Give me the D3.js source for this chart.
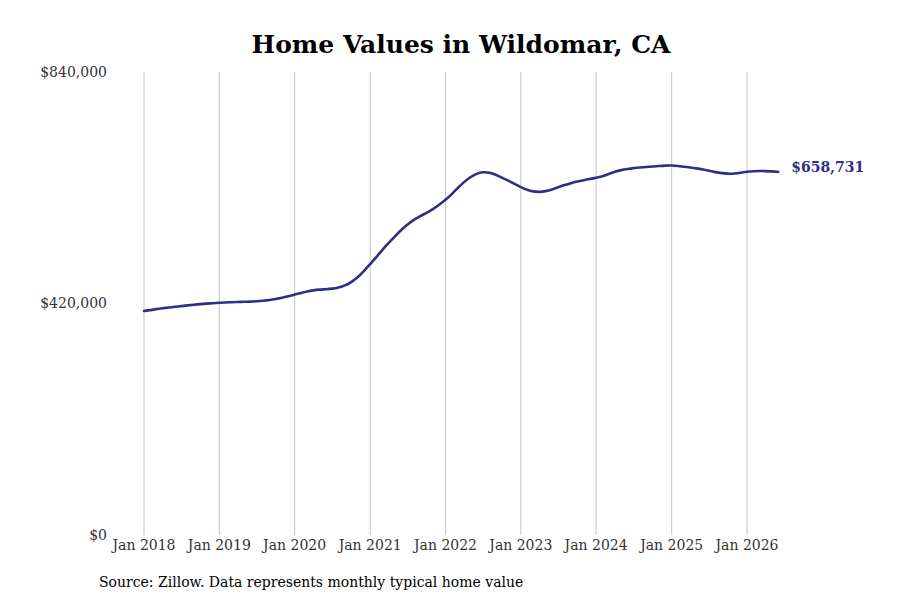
<!DOCTYPE html>
<html lang="en">
<head>
    <meta charset="UTF-8">
    <title>Home Values in Wildomar, CA</title>
    <script src="https://cdnjs.cloudflare.com/ajax/libs/d3/7.8.5/d3.min.js"></script>
    <style>
        body { margin: 0; background: #fff; }
        svg { display: block; font-family: "DejaVu Serif", serif; }
    </style>
</head>
<body>
<svg width="900" height="600"></svg>

<script>
    // monthly typical home value, Jan 2018 .. Jun 2026
    const startMonth = "2018-01";
    const homeValues = [
        406400, 408000, 409800, 411300, 412700, 414000, 415300, 416600, 417800, 418900, 419800, 420600,
        421300, 421900, 422400, 422800, 423100, 423400, 424000, 425000, 426300, 428000, 430200, 433000,
        436200, 439300, 442000, 444000, 445200, 445800, 446800, 449000, 452500, 458500, 467000, 478500,
        491500, 504500, 517500, 530000, 542000, 553500, 563500, 572000, 578500, 584500, 591000, 599000,
        607800, 618500, 629500, 640500, 649500, 655800, 658600, 657700, 653800, 648500, 643000, 637000,
        631000, 626000, 623000, 622200, 623600, 626800, 631000, 635000, 638500, 641300, 643800, 646000,
        648000, 650700, 654800, 659000, 662200, 664200, 665700, 666800, 667700, 668600, 669500, 670300,
        670400, 669600, 668100, 666800, 665200, 663200, 660800, 658300, 656300, 655300, 655800, 657300,
        659000, 660200, 660600, 660300, 659700, 658731
    ];
    const yTicks = [0, 420000, 840000];
    const xTickYears = [2018, 2019, 2020, 2021, 2022, 2023, 2024, 2025, 2026];

    const lineColor = "#2e2d88";
    const svg = d3.select("svg");

    const parseMonth = d3.timeParse("%Y-%m");
    const t0 = parseMonth(startMonth);
    const data = homeValues.map((v, i) => ({ date: d3.timeMonth.offset(t0, i), value: v }));

    const x = d3.scaleTime()
        .domain([new Date(2018, 0, 1), new Date(2026, 0, 1)])
        .range([144, 747]);
    const y = d3.scaleLinear()
        .domain([0, 840000])
        .range([535, 72]);

    // title
    svg.append("text")
        .attr("x", 461)
        .attr("y", 53)
        .attr("text-anchor", "middle")
        .attr("font-size", 25)
        .attr("font-weight", "bold")
        .attr("fill", "#000")
        .text("Home Values in Wildomar, CA");

    // vertical grid + x labels
    const xTicks = xTickYears.map(yr => new Date(yr, 0, 1));
    svg.append("g")
        .selectAll("line")
        .data(xTicks)
        .enter()
        .append("line")
        .attr("x1", d => x(d))
        .attr("x2", d => x(d))
        .attr("y1", y(840000))
        .attr("y2", y(0))
        .attr("stroke", "#c4c4c4")
        .attr("stroke-width", 1);

    svg.append("g")
        .selectAll("text")
        .data(xTicks)
        .enter()
        .append("text")
        .attr("x", d => x(d))
        .attr("y", 550)
        .attr("text-anchor", "middle")
        .attr("font-size", 14)
        .attr("fill", "#333")
        .text(d => d3.timeFormat("Jan %Y")(d));

    // y labels
    svg.append("g")
        .selectAll("text")
        .data(yTicks)
        .enter()
        .append("text")
        .attr("x", 107)
        .attr("y", d => y(d))
        .attr("dy", "0.35em")
        .attr("text-anchor", "end")
        .attr("font-size", 14)
        .attr("fill", "#333")
        .text(d => "$" + d3.format(",")(d));

    // line
    const line = d3.line()
        .x(d => x(d.date))
        .y(d => y(d.value))
        .curve(d3.curveBasis);

    svg.append("path")
        .datum(data)
        .attr("d", line)
        .attr("fill", "none")
        .attr("stroke", lineColor)
        .attr("stroke-width", 2.6)
        .attr("stroke-linejoin", "round")
        .attr("stroke-linecap", "round");

    // last value label
    const last = data[data.length - 1];
    svg.append("text")
        .attr("x", x(last.date) + 13)
        .attr("y", y(last.value) - 5)
        .attr("dy", "0.35em")
        .attr("font-size", 14)
        .attr("font-weight", "bold")
        .attr("fill", lineColor)
        .text("$" + d3.format(",")(last.value));

    // source note
    svg.append("text")
        .attr("x", 99)
        .attr("y", 587)
        .attr("font-size", 14)
        .attr("fill", "#000")
        .text("Source: Zillow. Data represents monthly typical home value");
</script>
</body>
</html>
